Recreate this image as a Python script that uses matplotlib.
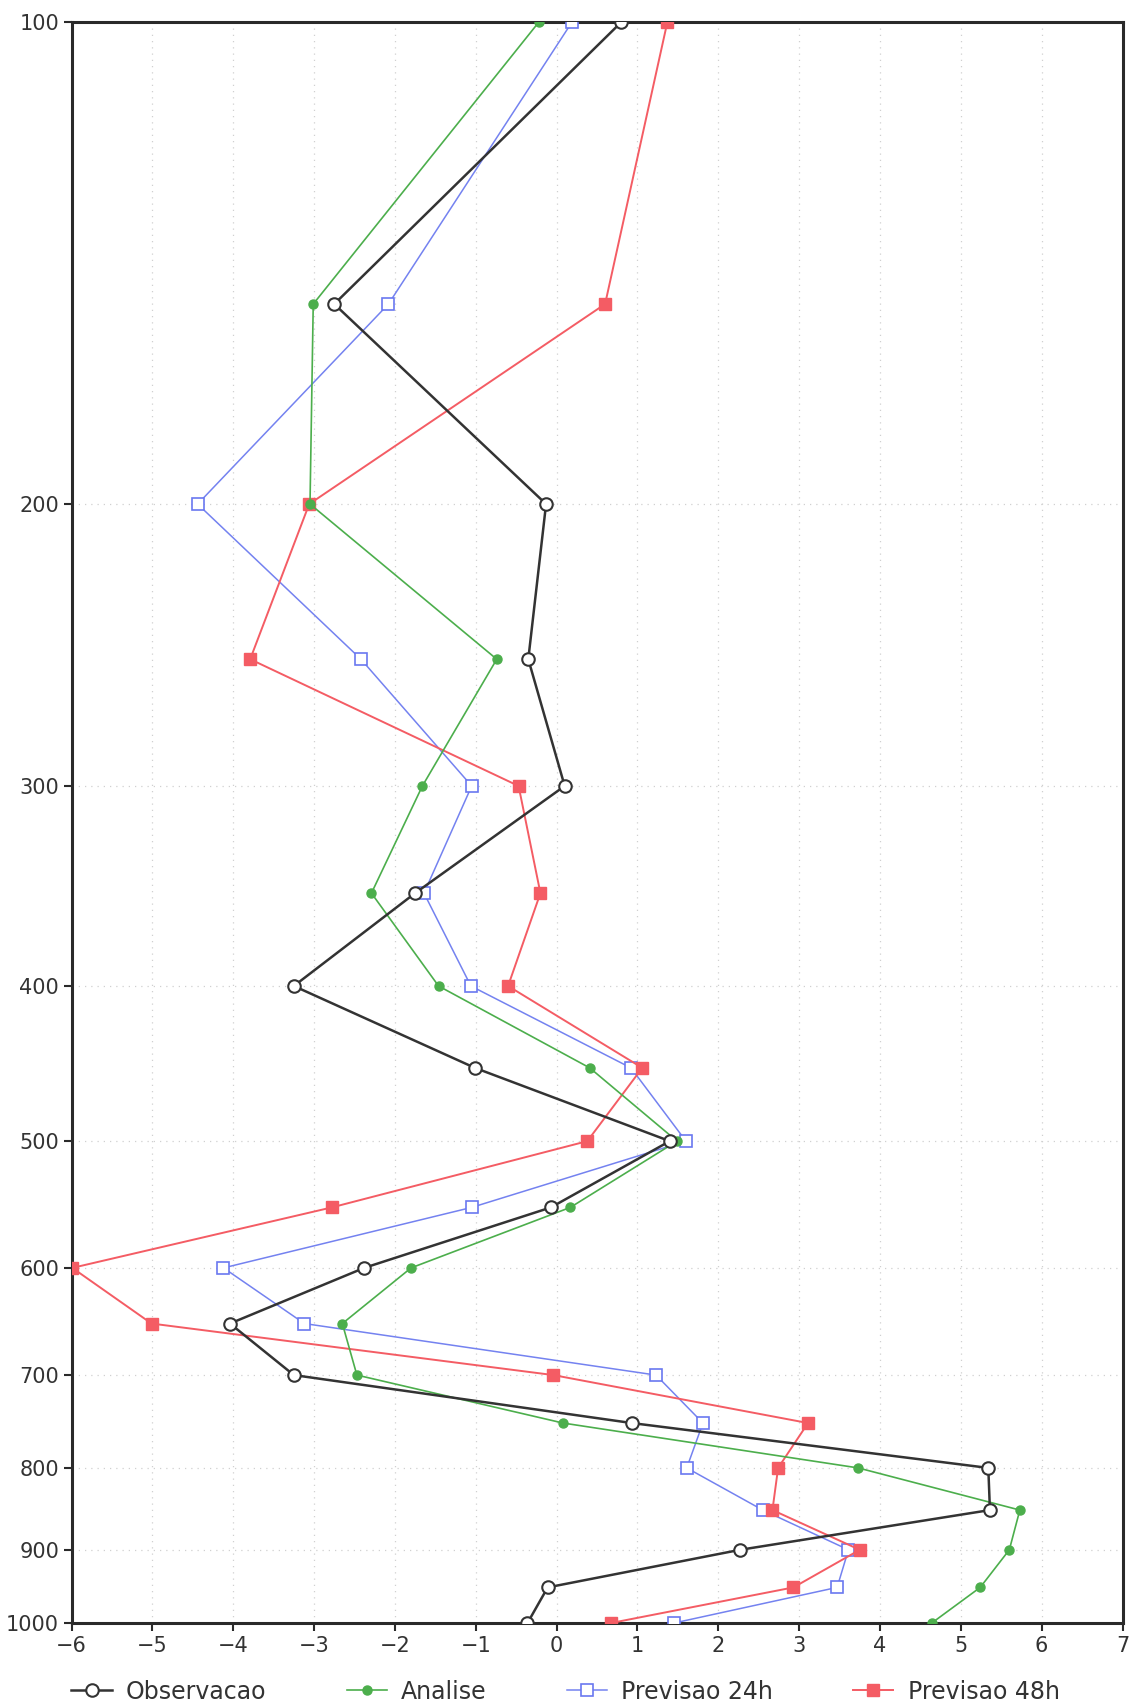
import matplotlib
matplotlib.use("Agg")
import matplotlib.pyplot as plt
from matplotlib.ticker import FixedLocator, NullLocator, FixedFormatter

plt.rcParams["font.family"] = ["DejaVu Sans"]

# ── data ─────────────────────────────────────────────────────────────────────
levels = [100, 150, 200, 250, 300, 350, 400, 450, 500, 550,
          600, 650, 700, 750, 800, 850, 900, 950, 1000]

observacao = [0.80, -2.75, -0.13, -0.35, 0.10, -1.75, -3.25, -1.01, 1.40, -0.07,
              -2.38, -4.04, -3.25, 0.93, 5.34, 5.36, 2.27, -0.11, -0.36]
analise = [-0.22, -3.01, -3.05, -0.74, -1.66, -2.29, -1.46, 0.41, 1.49, 0.17,
           -1.80, -2.65, -2.47, 0.08, 3.73, 5.73, 5.60, 5.24, 4.64]
previsao_24h = [0.19, -2.08, -4.44, -2.42, -1.05, -1.64, -1.06, 0.92, 1.60, -1.05,
                -4.12, -3.12, 1.23, 1.81, 1.61, 2.55, 3.61, 3.47, 1.45]
previsao_48h = [1.37, 0.60, -3.06, -3.79, -0.47, -0.20, -0.60, 1.06, 0.38, -2.78,
                -5.99, -5.01, -0.04, 3.11, 2.74, 2.67, 3.75, 2.93, 0.67]

x_ticks = list(range(-6, 8))
y_ticks = [100, 200, 300, 400, 500, 600, 700, 800, 900, 1000]

# ── figure ───────────────────────────────────────────────────────────────────
fig = plt.figure(figsize=(11.35, 17.04), dpi=100, facecolor="white")
ax = fig.add_axes([0.063, 0.0475, 0.926, 0.9395])

ax.plot(observacao, levels, color="#333333", lw=1.8, marker="o", ms=9,
        mfc="white", mec="#333333", mew=1.5, label="Observacao", zorder=5)
ax.plot(analise, levels, color="#4cae4c", lw=1.2, marker="o", ms=6.5,
        mfc="#4cae4c", mec="#4cae4c", label="Analise", zorder=4)
ax.plot(previsao_24h, levels, color="#7482f0", lw=1.1, marker="s", ms=9,
        mfc="white", mec="#6a78f0", mew=1.2, label="Previsao 24h", zorder=3)
ax.plot(previsao_48h, levels, color="#f45c64", lw=1.4, marker="s", ms=8,
        mfc="#f45c64", mec="#f45c64", label="Previsao 48h", zorder=3)

ax.set_yscale("log")
ax.set_ylim(1000, 100)
ax.set_xlim(-6, 7)
ax.yaxis.set_major_locator(FixedLocator(y_ticks))
ax.yaxis.set_major_formatter(FixedFormatter([str(v) for v in y_ticks]))
ax.yaxis.set_minor_locator(NullLocator())
ax.set_xticks(x_ticks)
ax.set_xticklabels([str(v).replace("-", "\u2212") for v in x_ticks])

ax.grid(True, color="#d0d0d0", lw=0.9, ls=(0, (1, 4)))
ax.set_axisbelow(True)
for sp in ax.spines.values():
    sp.set_color("#2a2a2a")
    sp.set_linewidth(2.2)
ax.tick_params(axis="both", direction="out", length=6, width=1.5,
               color="#2a2a2a", labelsize=15, labelcolor="#333333", pad=3)

ax.legend(loc="upper center", bbox_to_anchor=(0.47, -0.022), ncol=4,
          frameon=False, fontsize=17, handlelength=1.7, columnspacing=3.4,
          handletextpad=0.6, labelcolor="#333333")

fig.savefig("out.png", dpi=100, facecolor="white")
